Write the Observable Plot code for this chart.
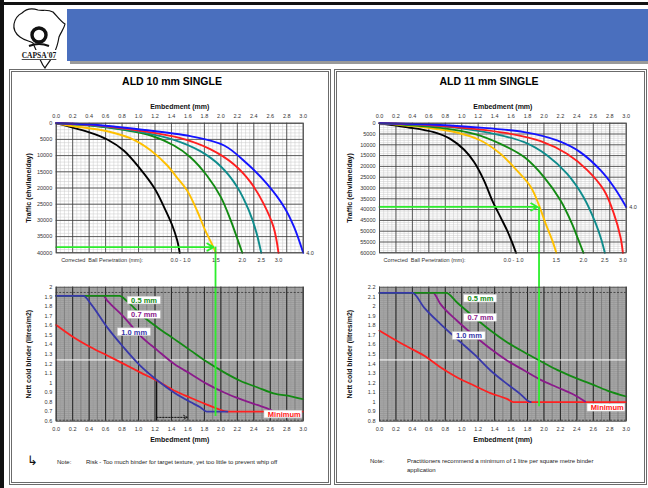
<!DOCTYPE html>
<html><head><meta charset="utf-8">
<script src="https://cdn.jsdelivr.net/npm/d3@7"></script>
<script src="https://cdn.jsdelivr.net/npm/@observablehq/plot@0.6"></script>
<style>
body{margin:0;background:#fff;font-family:"Liberation Sans",Arial,sans-serif;}
#page{position:relative;width:648px;height:488px;overflow:hidden;background:#fff;}
.abs{position:absolute;}
.panel{position:absolute;box-sizing:border-box;border:3px double #6b6b6b;}
.ptitle{position:absolute;font-weight:bold;font-size:10.5px;text-align:center;color:#000;}
.note{position:absolute;font-size:6px;color:#222;line-height:9px;}
svg g[aria-label="x-axis label"] text, svg g[aria-label="y-axis label"] text{font-weight:bold;font-size:7px;fill:#111;}
</style></head><body>
<div id="page">
  <div class="abs" style="left:0;top:2px;width:648px;height:3px;background:#111"></div>
  <div class="abs" style="left:0;top:0;width:4px;height:488px;background:#111"></div>
  <div class="abs" style="left:70px;top:12px;width:580px;height:52px;background:#9a9a9a"></div>
  <div class="abs" style="left:67px;top:9px;width:581px;height:52px;background:#4a6fbe"></div>
  <svg class="abs" style="left:8px;top:5px" width="60" height="64" viewBox="0 0 60 64">
    <path d="M14 8 C18 4,24 3,30 5 C35 6,40 4,45 7 C49 11,52 16,57 19 C56 24,53 27,51 32 C50 38,49 43,46 48 C44 54,40 58,37 63 C34 60,33 56,31 52 C29 47,27 43,25 38 C21 36,16 35,12 32 C8 29,5 25,6 19 C7 14,10 10,14 8 Z" fill="#fff" stroke="#111" stroke-width="1.2"/>
    <circle cx="31" cy="30" r="7" fill="none" stroke="#111" stroke-width="3.4"/>
    <path d="M21 41 Q31 37 41 41" fill="none" stroke="#111" stroke-width="2"/>
    <rect x="8" y="45" width="47" height="10" fill="#fff"/>
    <text x="31" y="53" font-size="7.5" font-weight="bold" text-anchor="middle" font-family="Liberation Serif, serif" fill="#111" text-decoration="underline">CAPSA'07</text>
  </svg>
  <div class="panel" style="left:9px;top:69px;width:322px;height:416px"></div>
  <div class="panel" style="left:334px;top:69px;width:313px;height:416px"></div>
  <div class="ptitle" style="left:12px;top:75px;width:320px">ALD 10 mm SINGLE</div>
  <div class="ptitle" style="left:335px;top:75px;width:308px">ALD 11 mm SINGLE</div>
  <div id="tl" class="abs" style="left:10px;top:92px"></div>
  <div id="tr" class="abs" style="left:335px;top:92px"></div>
  <div id="bl" class="abs" style="left:10px;top:275px"></div>
  <div id="br" class="abs" style="left:335px;top:275px"></div>
  <div class="note" style="left:27px;top:454px;font-size:13px;line-height:13px;color:#111">&#8627;</div>
  <div class="note" style="left:57px;top:458px">Note:</div>
  <div class="note" style="left:86px;top:458px;width:240px">Risk - Too much binder for target texture, yet too little to prevent whip off</div>
  <div class="note" style="left:370px;top:457px">Note:</div>
  <div class="note" style="left:407px;top:457px;width:215px">Practitioners recommend a minimum of 1 litre per square metre binder application</div>
</div>
<script>
// ---------- data ----------
const embedTicks = [0,0.2,0.4,0.6,0.8,1.0,1.2,1.4,1.6,1.8,2.0,2.2,2.4,2.6,2.8,3.0];
const traffic10Ticks = [0,5000,10000,15000,20000,25000,30000,35000,40000];
const traffic11Ticks = [0,5000,10000,15000,20000,25000,30000,35000,40000,45000,50000,55000,60000];
const binder10Ticks = [0.6,0.7,0.8,0.9,1.0,1.1,1.2,1.3,1.4,1.5,1.6,1.7,1.8,1.9,2.0];
const binder11Ticks = [0.8,0.9,1.0,1.1,1.2,1.3,1.4,1.5,1.6,1.7,1.8,1.9,2.0,2.1,2.2];

// ALD 10 mm: embedment (mm) vs traffic
const t10Black  = [[0,0],[0.21,1440],[0.42,2980],[0.62,5040],[0.82,8430],[1.02,14090],[1.19,19950],[1.31,25900],[1.41,31570],[1.47,36200],[1.50,40000]];
const t10Yellow = [[0,0],[0.21,925],[0.62,2470],[0.90,4630],[1.15,8430],[1.35,13060],[1.47,16860],[1.59,20770],[1.71,26940],[1.81,33100],[1.89,37220],[1.94,40000]];
const t10Green  = [[0,0],[0.42,720],[0.82,2060],[1.15,3800],[1.43,6890],[1.63,10490],[1.83,16140],[2.0,22830],[2.12,30020],[2.2,35680],[2.26,40000]];
const t10Teal   = [[0,0],[0.42,620],[1.02,2670],[1.43,5140],[1.75,8640],[2.0,13370],[2.2,19740],[2.34,26940],[2.43,33620],[2.49,40000]];
const t10Red    = [[0,0],[0.42,510],[1.02,2360],[1.51,4630],[1.87,8020],[2.16,12750],[2.36,18200],[2.52,24880],[2.64,32080],[2.70,40000]];
const t10Blue   = [[0,0],[0.42,410],[1.02,1950],[1.63,4010],[2.04,6890],[2.32,12540],[2.56,18710],[2.77,25910],[2.89,32080],[3.0,40000]];

// ALD 11 mm
const t11Black  = [[0,0],[0.34,1850],[0.66,4150],[0.86,7230],[1.03,12310],[1.15,18000],[1.27,26460],[1.37,35690],[1.47,43380],[1.55,49540],[1.61,54920],[1.66,60000]];
const t11Yellow = [[0,0],[0.54,1850],[0.94,4310],[1.23,8000],[1.47,14150],[1.67,21850],[1.84,29540],[1.94,38000],[2.02,46460],[2.10,54150],[2.15,60000]];
const t11Green  = [[0,0],[0.35,800],[0.74,2150],[1.15,4920],[1.47,9540],[1.76,15690],[2.0,24920],[2.20,35690],[2.34,46460],[2.42,54150],[2.48,60000]];
const t11Teal   = [[0,0],[0.45,700],[0.94,2150],[1.35,4620],[1.76,8770],[2.04,14920],[2.28,23380],[2.48,34150],[2.63,46460],[2.70,54150],[2.74,60000]];
const t11Red    = [[0,0],[0.55,700],[1.15,2620],[1.55,4620],[1.96,8310],[2.28,14150],[2.53,21850],[2.73,31080],[2.85,41850],[2.93,52620],[2.96,60000]];
const t11Blue   = [[0,0],[0.55,500],[1.15,1850],[1.76,4150],[2.16,8000],[2.44,13380],[2.69,21850],[2.85,29540],[3.0,38770]];

// penetration labels under the traffic charts
const penTitle10 = [["Corrected  Ball Penetration (mm):",0.06]];
const penTitle11 = [["Corrected  Ball Penetration (mm):",0.05]];
const pen10 = [["0.0 - 1.0",1.51],["1.5",1.94],["2.0",2.26],["2.5",2.49],["3.0",2.70]];
const pen11 = [["0.0 - 1.0",1.63],["1.5",2.15],["2.0",2.48],["2.5",2.74],["3.0",2.96]];
const end10 = [["4.0",3.0,40000]];
const end11 = [["4.0",3.0,38770]];

// embedment vs nett cold binder
const b10Red    = [[0,1.606],[0.21,1.478],[0.42,1.373],[0.62,1.286],[0.82,1.199],[1.02,1.11],[1.23,1.02],[1.43,0.92],[1.63,0.845],[1.83,0.774],[1.96,0.729],[2.08,0.70],[3.0,0.70]];
const b10Purple = [[0,1.91],[0.57,1.91],[0.62,1.86],[0.82,1.69],[1.02,1.495],[1.23,1.34],[1.43,1.20],[1.63,1.095],[1.83,0.99],[2.04,0.90],[2.24,0.83],[2.44,0.77],[2.6,0.72],[2.64,0.70]];
const b10Green  = [[0,1.91],[0.77,1.91],[0.86,1.854],[1.02,1.72],[1.23,1.58],[1.43,1.46],[1.63,1.34],[1.83,1.22],[2.04,1.11],[2.24,1.02],[2.44,0.955],[2.64,0.89],[2.85,0.86],[3.0,0.83]];
const b10Blue   = [[0,1.91],[0.33,1.91],[0.42,1.826],[0.62,1.58],[0.82,1.37],[1.02,1.18],[1.23,1.025],[1.43,0.90],[1.63,0.80],[1.75,0.746],[1.83,0.70],[2.08,0.70]];

const b11Red    = [[0,1.747],[0.134,1.678],[0.336,1.58],[0.54,1.486],[0.74,1.364],[0.94,1.26],[1.15,1.173],[1.35,1.093],[1.55,1.033],[1.63,1.0],[3.0,1.0]];
const b11Purple = [[0,2.14],[0.65,2.14],[0.74,2.026],[0.94,1.852],[1.15,1.695],[1.35,1.556],[1.55,1.434],[1.76,1.33],[1.96,1.232],[2.16,1.155],[2.36,1.079],[2.5,1.005]];
const b11Green  = [[0,2.14],[0.81,2.14],[0.94,2.043],[1.15,1.887],[1.35,1.747],[1.55,1.625],[1.76,1.52],[1.96,1.427],[2.16,1.336],[2.36,1.26],[2.57,1.19],[2.77,1.12],[3.0,1.058]];
const b11Blue   = [[0,2.14],[0.40,2.14],[0.54,1.99],[0.74,1.817],[0.94,1.66],[1.15,1.50],[1.35,1.33],[1.55,1.19],[1.71,1.086],[1.82,1.006],[1.84,1.0]];

const b10Labels = [["0.5 mm",0.87,1.86,"green"],["0.7 mm",0.87,1.71,"purple"],["1.0 mm",0.75,1.53,"blue"],["Minimum",2.53,0.67,"red"]];
const b11Labels = [["0.5 mm",1.03,2.08,"green"],["0.7 mm",1.03,1.88,"purple"],["1.0 mm",0.89,1.69,"blue"],["Minimum",2.53,0.94,"red"]];
const b10Dashes = [1.945,0.61];
const b11Dashes = [2.145,0.81];
const b10White = [1.24];
const b11White = [1.44];

// green read-off guides: traffic level, arrow end, embedment, binder end
const guide10 = [[38250,1.91,1.935,0.65]];
const guide11 = [[38770,1.92,1.94,0.95]];
// risk marker on ALD 10 binder chart: [x, yTop, arrowY, arrowEndX]
const risk10 = [[1.22,1.03,0.64,1.59]];

// ---------- styling ----------
const FONT = '"Liberation Sans", Arial, sans-serif';
const COL = {black:"#000000",yellow:"#ffc000",green:"#128a12",teal:"#0f8c8c",red:"#ff1f1f",blue:"#1414ff",
  bgreen:"#138a13",purple:"#8b1a8b",bblue:"#3838aa",bred:"#ff2020",lime:"#2cee2c"};
const labelCol = {green:COL.bgreen,purple:COL.purple,blue:COL.bblue,red:COL.bred};
const minorX = d3.range(0,3.0001,0.05);
const midX = d3.range(0,3.0001,0.1);
const L = a => a.map(([x,y]) => ({x,y}));

function trafficChart(o){
  const curves = [[o.black,COL.black],[o.yellow,COL.yellow],[o.green,COL.green],[o.teal,COL.teal],[o.red,COL.red],[o.blue,COL.blue]];
  return Plot.plot({
    width:o.width, height:183, marginLeft:o.mL, marginRight:o.mR, marginTop:30.7, marginBottom:22.7,
    style:{fontFamily:FONT,fontSize:"5.5px",color:"#333",background:"transparent",overflow:"hidden"},
    x:{domain:[0,3],axis:"top",ticks:embedTicks,tickFormat:d=>d.toFixed(1),tickSize:0,tickPadding:5,label:"Embedment (mm)",labelAnchor:"center",labelOffset:19,labelArrow:false},
    y:{domain:[0,o.yMax],reverse:true,ticks:o.yTicks,tickFormat:d=>String(d),tickSize:0,tickPadding:4,label:"Traffic (ehv/lane/day)",labelAnchor:"center",labelOffset:o.yLabelOffset,labelArrow:false},
    marks:[
      Plot.frame({fill:"white"}),
      Plot.ruleX(minorX,{stroke:"#c9c9c9",strokeWidth:0.5}),
      Plot.ruleY(d3.range(0,o.yMax+1,1000),{stroke:"#c9c9c9",strokeWidth:0.5}),
      Plot.ruleX(embedTicks,{stroke:"#3a3a3a",strokeWidth:0.8}),
      Plot.ruleY(o.yTicks,{stroke:"#3a3a3a",strokeWidth:0.8}),
      ...curves.map(([d,c]) => Plot.line(L(d),{x:"x",y:"y",stroke:c,strokeWidth:1.9,curve:"catmull-rom"})),
      Plot.arrow(o.guide,{x1:0,y1:d=>d[0],x2:d=>d[1],y2:d=>d[0],stroke:COL.lime,strokeWidth:1.8,headLength:6,bend:0}),
      Plot.ruleX(o.guide,{x:d=>d[2],y1:d=>d[0],y2:d=>d[0]*3,stroke:COL.lime,strokeWidth:1.8}),
      Plot.frame({stroke:"#444",strokeWidth:0.8}),
      Plot.text(o.penTitle,{x:d=>d[1],y:o.yMax,text:d=>d[0],dy:7,textAnchor:"start",fill:"#333"}),
      Plot.text(o.pen,{x:d=>d[1],y:o.yMax,text:d=>d[0],dy:7,textAnchor:"middle",fill:"#333"}),
      Plot.text(o.end,{x:d=>d[1],y:d=>d[2],text:d=>d[0],dx:3,textAnchor:"start",fill:"#333"})
    ]
  });
}

function binderChart(o){
  const curves = [[o.red,COL.bred],[o.purple,COL.purple],[o.green,COL.bgreen],[o.blue,COL.bblue]];
  const [y0,y1] = o.yDomain;
  const marks = [
    Plot.frame({fill:"#a9a9a9"}),
    Plot.ruleY(d3.range(y0,y1+0.0001,0.02),{stroke:"#8c8c8c",strokeWidth:0.5}),
    Plot.ruleX(minorX,{stroke:"#969696",strokeWidth:0.5}),
    Plot.ruleX(midX,{stroke:"#6e6e6e",strokeWidth:0.6}),
    Plot.ruleX(embedTicks,{stroke:"#262626",strokeWidth:1}),
    Plot.ruleY(o.dashes,{stroke:"#333",strokeWidth:0.8,strokeDasharray:"2,1.5"}),
    Plot.ruleY(o.white,{stroke:"#ffffff",strokeWidth:1}),
  ];
  if (o.risk) {
    marks.push(Plot.ruleX(o.risk,{x:d=>d[0],y1:y0,y2:d=>d[1],stroke:"#111",strokeWidth:1.3}));
    marks.push(Plot.arrow(o.risk,{x1:d=>d[0],y1:d=>d[2],x2:d=>d[3],y2:d=>d[2],stroke:"#111",strokeWidth:1,strokeDasharray:"1.5,1.5",headLength:6,bend:0}));
  }
  marks.push(...curves.map(([d,c]) => Plot.line(L(d),{x:"x",y:"y",stroke:c,strokeWidth:1.8,curve:"monotone-x"})));
  marks.push(Plot.ruleX(o.guide,{x:d=>d[2],y1:d=>d[3],y2:y1+3,stroke:COL.lime,strokeWidth:1.8}));
  marks.push(Plot.rect(o.labels,{x1:d=>d[1],x2:d=>d[1]+d[0].length*0.06+0.04,y1:d=>d[2]-0.04,y2:d=>d[2]+0.04,fill:"white",stroke:"#c8c8c8",strokeWidth:0.5}));
  for (const l of o.labels) marks.push(Plot.text([l],{x:d=>d[1]+0.04,y:d=>d[2],text:d=>d[0],textAnchor:"start",fontWeight:"bold",fontSize:7.5,fill:labelCol[l[3]]}));
  marks.push(Plot.frame({stroke:"#444",strokeWidth:0.8}));
  return Plot.plot({
    width:o.width, height:175, marginLeft:o.mL, marginRight:o.mR, marginTop:11.7, marginBottom:29.3,
    style:{fontFamily:FONT,fontSize:"5.5px",color:"#333",background:"transparent",overflow:"hidden"},
    x:{domain:[0,3],ticks:embedTicks,tickFormat:d=>d.toFixed(1),tickSize:0,tickPadding:6,label:"Embedment (mm)",labelAnchor:"center",labelOffset:21,labelArrow:false},
    y:{domain:o.yDomain,ticks:o.yTicks,tickFormat:d=>String(+d.toFixed(1)),tickSize:0,tickPadding:4,label:"Nett cold binder (litres/m2)",labelAnchor:"center",labelOffset:o.yLabelOffset,labelArrow:false},
    marks
  });
}

document.getElementById("tl").append(trafficChart({width:320,mL:45.7,mR:27.3,yMax:40000,yTicks:traffic10Ticks,yLabelOffset:30,
  black:t10Black,yellow:t10Yellow,green:t10Green,teal:t10Teal,red:t10Red,blue:t10Blue,penTitle:penTitle10,pen:pen10,end:end10,guide:guide10}));
document.getElementById("tr").append(trafficChart({width:310,mL:44,mR:19.3,yMax:60000,yTicks:traffic11Ticks,yLabelOffset:32,
  black:t11Black,yellow:t11Yellow,green:t11Green,teal:t11Teal,red:t11Red,blue:t11Blue,penTitle:penTitle11,pen:pen11,end:end11,guide:guide11}));
document.getElementById("bl").append(binderChart({width:320,mL:45.7,mR:27.3,yDomain:[0.6,2.0],yTicks:binder10Ticks,yLabelOffset:30,
  red:b10Red,purple:b10Purple,green:b10Green,blue:b10Blue,labels:b10Labels,dashes:b10Dashes,white:b10White,guide:guide10,risk:risk10}));
document.getElementById("br").append(binderChart({width:310,mL:44,mR:19.3,yDomain:[0.8,2.2],yTicks:binder11Ticks,yLabelOffset:32,
  red:b11Red,purple:b11Purple,green:b11Green,blue:b11Blue,labels:b11Labels,dashes:b11Dashes,white:b11White,guide:guide11}));
</script>
</body></html>
